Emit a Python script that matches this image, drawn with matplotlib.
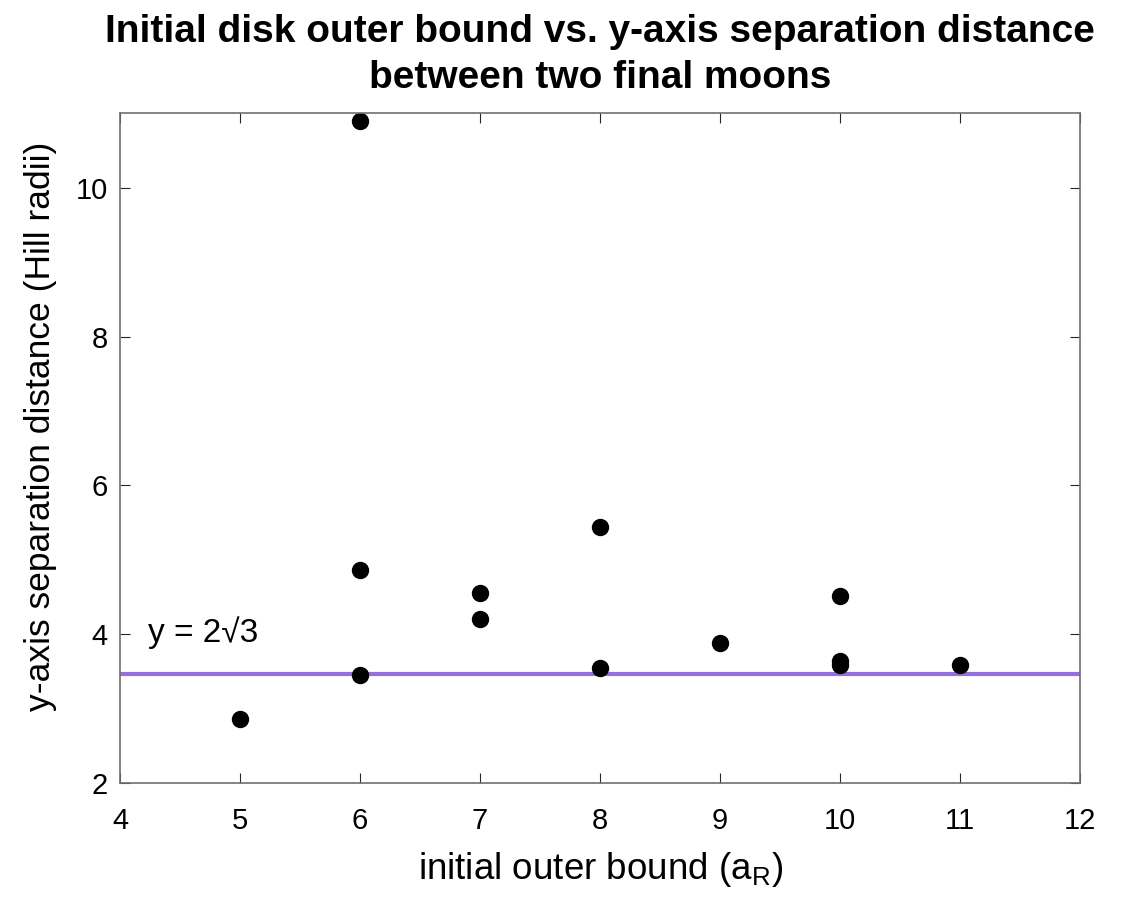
import matplotlib
matplotlib.use('Agg')
import matplotlib.pyplot as plt
import numpy as np

# outer bound (a_R) and separation (Hill radii)
outer_bound = [5, 6, 6, 6, 7, 7, 8, 8, 9, 10, 10, 10, 11]
separation = [2.86, 10.9, 4.86, 3.45, 4.55, 4.20, 5.44, 3.54, 3.88, 4.51, 3.64, 3.58, 3.58]

ref_y = 2 * np.sqrt(3)

plt.rcParams['font.family'] = ['Liberation Sans', 'DejaVu Sans']

fig = plt.figure(figsize=(11.24, 8.99), dpi=100)
ax = fig.add_axes([0.1068, 0.129, 0.8541, 0.745])

ax.axhline(ref_y, color='#9370db', linewidth=3, zorder=1)
ax.plot(outer_bound, separation, 'o', color='black', markersize=11.5, zorder=2)
ax.text(4.23, 4.02, 'y = 2\u221a3', fontsize=24, va='center')

ax.set_xlim(4, 12)
ax.set_ylim(2, 11)
ax.set_xticks(range(4, 13))
ax.set_yticks([2, 4, 6, 8, 10])
ax.tick_params(direction='in', top=True, right=True, labelsize=21, length=7,
               color='#262626')
ax.tick_params(axis='x', pad=17)
ax.tick_params(axis='y', pad=9)
for s in ax.spines.values():
  s.set_color('#707070')
  s.set_linewidth(1.2)

ax.set_xlabel('initial outer bound (a$_\\mathregular{R}$)', fontsize=26.5)
ax.set_ylabel('y-axis separation distance (Hill radii)', fontsize=25.5)
ax.xaxis.set_label_coords(0.5, -0.1)
ax.yaxis.set_label_coords(-0.066, 0.533)
ax.set_title('Initial disk outer bound vs. y-axis separation distance\nbetween two final moons',
             fontsize=28, fontweight='bold', pad=18, linespacing=1.35)

plt.savefig('out.png', dpi=100)
